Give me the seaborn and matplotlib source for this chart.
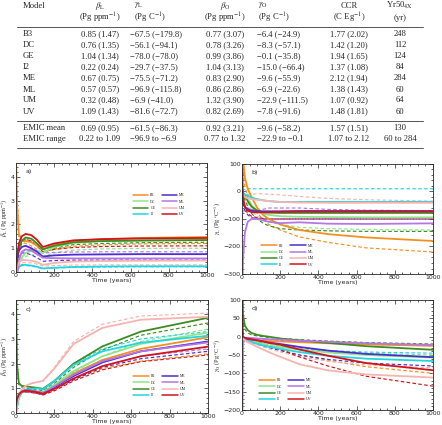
import matplotlib
matplotlib.use("Agg")
import matplotlib.pyplot as plt
import matplotlib.ticker as ticker
from matplotlib.lines import Line2D
import seaborn as sns
import pandas as pd

sns.set_style("ticks")
plt.rcParams['font.family'] = ['Liberation Serif', 'DejaVu Serif']
plt.rcParams['mathtext.fontset'] = 'stix'

# --- Dados da tabela ---
models = ['B3', 'DC', 'GE', 'I2', 'ME', 'ML', 'UM', 'UV']
beta_l_tab = ['0.85 (1.47)', '0.76 (1.35)', '1.04 (1.34)', '0.22 (0.24)',
              '0.67 (0.75)', '0.57 (0.57)', '0.32 (0.48)', '1.09 (1.43)']
gamma_l_tab = ['−67.5 (−179.8)', '−56.1 (−94.1)', '−78.0 (−78.0)', '−29.7 (−37.5)',
               '−75.5 (−71.2)', '−96.9 (−115.8)', '−6.9 (−41.0)', '−81.6 (−72.7)']
beta_o_tab = ['0.77 (3.07)', '0.78 (3.26)', '0.99 (3.86)', '1.04 (3.13)',
              '0.83 (2.90)', '0.86 (2.86)', '1.32 (3.90)', '0.82 (2.69)']
gamma_o_tab = ['−6.4 (−24.9)', '−8.3 (−57.1)', '−0.1 (−35.8)', '−15.0 (−66.4)',
               '−9.6 (−55.9)', '−6.9 (−22.6)', '−22.9 (−111.5)', '−7.8 (−91.6)']
ccr_tab = ['1.77 (2.02)', '1.42 (1.20)', '1.94 (1.65)', '1.37 (1.08)',
           '2.12 (1.94)', '1.38 (1.43)', '1.07 (0.92)', '1.48 (1.81)']
yr50_tab = ['248', '112', '124', '84', '284', '60', '64', '60']
summary_names = ['EMIC mean', 'EMIC range']
summary_rows = [
    ['0.69 (0.95)', '−61.5 (−86.3)', '0.92 (3.21)', '−9.6 (−58.2)', '1.57 (1.51)', '130'],
    ['0.22 to 1.09', '−96.9 to −6.9', '0.77 to 1.32', '−22.9 to −0.1', '1.07 to 2.12', '60 to 284'],
]

# --- Séries temporais ---
years = [1, 5, 15, 30, 50, 80, 110, 140, 200, 300, 450, 650, 1000]

beta_l_solid = {
    'B3': [4.6, 3.0, 1.6, 1.35, 1.3, 1.25, 1.1, 0.95, 1.15, 1.3, 1.38, 1.43, 1.47],
    'DC': [0.0, 0.1, 0.35, 0.6, 0.8, 0.9, 0.9, 0.8, 1.05, 1.22, 1.3, 1.33, 1.35],
    'GE': [0.1, 0.5, 1.0, 1.3, 1.45, 1.4, 1.2, 0.95, 1.1, 1.25, 1.3, 1.32, 1.34],
    'I2': [-0.3, 0.0, 0.2, 0.3, 0.3, 0.27, 0.22, 0.15, 0.18, 0.21, 0.23, 0.24, 0.24],
    'ME': [0.1, 0.5, 0.9, 1.05, 1.1, 1.0, 0.85, 0.65, 0.7, 0.73, 0.74, 0.75, 0.75],
    'ML': [-1.0, -0.2, 0.5, 0.85, 0.95, 0.9, 0.75, 0.6, 0.58, 0.57, 0.57, 0.57, 0.57],
    'UM': [0.0, 0.2, 0.4, 0.5, 0.5, 0.47, 0.42, 0.3, 0.38, 0.44, 0.46, 0.47, 0.48],
    'UV': [0.1, 0.6, 1.2, 1.5, 1.6, 1.55, 1.35, 1.05, 1.2, 1.33, 1.38, 1.41, 1.43],
}
beta_l_dashed = {
    'B3': [4.6, 2.5, 1.4, 1.25, 1.2, 1.1, 0.95, 0.8, 0.95, 1.08, 1.14, 1.18, 1.2],
    'DC': [0.0, 0.1, 0.3, 0.5, 0.65, 0.72, 0.72, 0.65, 0.8, 0.92, 0.97, 0.99, 1.0],
    'GE': [0.1, 0.45, 0.9, 1.2, 1.35, 1.3, 1.1, 0.85, 1.0, 1.15, 1.2, 1.23, 1.25],
    'I2': [-0.2, 0.0, 0.18, 0.27, 0.27, 0.25, 0.2, 0.14, 0.17, 0.2, 0.21, 0.22, 0.22],
    'ME': [0.1, 0.4, 0.7, 0.8, 0.8, 0.72, 0.6, 0.45, 0.48, 0.5, 0.5, 0.5, 0.5],
    'ML': [-0.8, -0.1, 0.5, 0.8, 0.95, 0.95, 0.9, 0.8, 0.82, 0.84, 0.85, 0.85, 0.85],
    'UM': [0.0, 0.15, 0.3, 0.38, 0.4, 0.38, 0.33, 0.25, 0.27, 0.29, 0.3, 0.3, 0.3],
    'UV': [0.1, 0.55, 1.05, 1.3, 1.38, 1.3, 1.1, 0.85, 0.95, 1.03, 1.07, 1.09, 1.1],
}

gamma_l_solid = {
    'B3': [300, 120, 50, 10, -20, -60, -85, -100, -120, -140, -155, -167, -180],
    'DC': [0, -5, -15, -30, -50, -70, -80, -85, -90, -92, -93, -94, -94],
    'GE': [0, -5, -15, -35, -55, -70, -75, -77, -78, -78, -78, -78, -78],
    'I2': [0, -5, -10, -15, -22, -28, -32, -35, -38, -38, -38, -38, -37.5],
    'ME': [-20, -40, -55, -65, -70, -72, -72, -72, -72, -71, -71, -71, -71.2],
    'ML': [-400, -250, -150, -110, -100, -100, -105, -110, -115, -112, -117, -118, -115.8],
    'UM': [0, -10, -20, -25, -28, -30, -32, -35, -38, -40, -41, -41, -41],
    'UV': [80, -20, -55, -70, -75, -76, -76, -75, -74, -73, -73, -73, -72.7],
}
gamma_l_dashed = {
    'B3': [200, 80, 20, -20, -50, -80, -100, -120, -140, -165, -185, -205, -220],
    'DC': [0, -10, -25, -45, -70, -90, -100, -110, -120, -130, -135, -138, -140],
    'GE': [0, -10, -30, -55, -80, -100, -115, -125, -135, -140, -143, -145, -145],
    'I2': [0, 5, 8, 10, 10, 10, 10, 10, 10, 10, 10, 10, 10],
    'ME': [-20, -45, -70, -85, -95, -100, -100, -100, -100, -100, -100, -100, -100],
    'ML': [-100, -70, -60, -60, -65, -65, -65, -60, -60, -60, -65, -68, -70],
    'UM': [0, -5, -8, -10, -10, -8, -8, -10, -12, -18, -25, -30, -35],
    'UV': [40, -25, -60, -80, -90, -95, -98, -100, -100, -100, -100, -100, -100],
}

beta_o_solid = {
    'B3': [0.2, 0.5, 0.75, 0.9, 0.93, 0.9, 0.85, 0.8, 1.1, 1.6, 2.15, 2.6, 3.07],
    'DC': [0.3, 0.55, 0.8, 0.9, 0.93, 0.92, 0.88, 0.85, 1.15, 1.7, 2.3, 2.8, 3.26],
    'GE': [4.6, 2.0, 1.2, 1.1, 1.08, 1.05, 1.02, 0.98, 1.3, 2.0, 2.7, 3.3, 3.86],
    'I2': [0.0, 0.2, 0.6, 0.85, 0.95, 0.98, 1.0, 0.95, 1.3, 1.95, 2.5, 2.85, 3.13],
    'ME': [0.2, 0.5, 0.75, 0.88, 0.92, 0.9, 0.86, 0.8, 1.05, 1.5, 2.05, 2.5, 2.90],
    'ML': [0.2, 0.5, 0.75, 0.88, 0.92, 0.9, 0.86, 0.82, 1.08, 1.55, 2.1, 2.5, 2.86],
    'UM': [0.0, 0.3, 0.7, 0.95, 1.1, 1.2, 1.25, 1.3, 1.8, 2.8, 3.45, 3.78, 3.90],
    'UV': [0.3, 0.55, 0.75, 0.87, 0.9, 0.88, 0.84, 0.78, 0.98, 1.4, 1.9, 2.3, 2.69],
}
beta_o_dashed = {
    'B3': [0.2, 0.45, 0.7, 0.85, 0.88, 0.85, 0.8, 0.75, 0.95, 1.35, 1.8, 2.1, 2.4],
    'DC': [0.3, 0.5, 0.75, 0.88, 0.9, 0.9, 0.86, 0.82, 1.1, 1.65, 2.3, 2.9, 3.4],
    'GE': [4.6, 1.9, 1.15, 1.05, 1.0, 0.98, 0.95, 0.9, 1.2, 1.85, 2.55, 3.15, 3.65],
    'I2': [0.0, 0.2, 0.6, 0.85, 0.95, 0.98, 1.0, 0.95, 1.3, 2.0, 2.6, 3.0, 3.3],
    'ME': [0.2, 0.45, 0.7, 0.84, 0.87, 0.85, 0.8, 0.75, 0.95, 1.35, 1.85, 2.2, 2.5],
    'ML': [0.2, 0.45, 0.7, 0.84, 0.87, 0.85, 0.81, 0.77, 0.98, 1.4, 1.9, 2.3, 2.6],
    'UM': [0.0, 0.3, 0.7, 0.95, 1.1, 1.2, 1.25, 1.3, 1.85, 2.9, 3.6, 3.93, 4.05],
    'UV': [0.3, 0.5, 0.7, 0.82, 0.85, 0.83, 0.79, 0.73, 0.9, 1.3, 1.75, 2.08, 2.35],
}

gamma_o_solid = {
    'B3': [0, -2, -4, -6, -8, -10, -11, -12, -13, -15, -18, -21, -24.9],
    'DC': [0, -3, -6, -9, -12, -16, -20, -24, -28, -35, -43, -50, -57.1],
    'GE': [200, 60, 30, 18, 10, 5, 2, 0, -5, -10, -17, -26, -35.8],
    'I2': [0, -3, -6, -10, -15, -20, -24, -28, -33, -42, -52, -60, -66.4],
    'ME': [0, -2, -4, -6, -8, -10, -13, -16, -20, -28, -38, -47, -55.9],
    'ML': [-300, -20, -5, -3, -4, -5, -6, -7, -8, -11, -14, -18, -22.6],
    'UM': [0, -5, -10, -15, -20, -28, -35, -42, -55, -75, -92, -103, -111.5],
    'UV': [60, 0, -3, -5, -7, -10, -13, -17, -22, -35, -52, -72, -91.6],
}
gamma_o_dashed = {
    'B3': [0, -2, -5, -8, -12, -17, -22, -27, -35, -50, -65, -82, -100],
    'DC': [0, -3, -6, -9, -12, -15, -18, -22, -26, -32, -39, -45, -50],
    'GE': [150, 40, 20, 10, 5, 2, 0, -2, -5, -8, -12, -16, -20],
    'I2': [0, -3, -6, -9, -13, -17, -20, -23, -27, -33, -38, -42, -45],
    'ME': [0, -3, -6, -10, -15, -20, -25, -30, -38, -50, -62, -72, -80],
    'ML': [-250, -15, -5, -3, -4, -5, -6, -8, -10, -13, -17, -21, -25],
    'UM': [0, -4, -8, -12, -17, -22, -28, -33, -42, -55, -67, -77, -85],
    'UV': [50, 0, -4, -7, -10, -14, -19, -25, -35, -55, -80, -108, -135],
}

cores = {
    'B3': '#f39020', 'DC': '#90e48c', 'GE': '#3c8c22', 'I2': '#22d6e0',
    'ME': '#4a2ed2', 'ML': '#b476e4', 'UM': '#f6b4b0', 'UV': '#d2141a',
}

W, H = 442, 425
fig = plt.figure(figsize=(W / 100, H / 100), dpi=100)


def fx(x):
    return x / W


def fy(y):
    return 1 - y / H


# --- Tabela ---
fs = 6.2
fig.text(fx(23), fy(6), 'Model', fontsize=fs, va='center', ha='left')
cabecalhos = [
    (100, 'center', r'$\beta_{\mathrm{L}}$', r'(Pg ppm$^{-1}$)'),
    (134, 'left', r'$\gamma_{\mathrm{L}}$', r'(Pg C$^{-1}$)'),
    (225, 'center', r'$\beta_{\mathrm{O}}$', r'(Pg ppm$^{-1}$)'),
    (258, 'left', r'$\gamma_{\mathrm{O}}$', r'(Pg C$^{-1}$)'),
    (349, 'center', 'CCR', r'(C Eg$^{-1}$)'),
    (400, 'center', r'Yr50$_{\mathrm{4X}}$', '(yr)'),
]
for x, ha, l1, l2 in cabecalhos:
    fig.text(fx(x), fy(5.5), l1, fontsize=fs, va='center', ha=ha)
    fig.text(fx(x), fy(18), l2, fontsize=fs, va='center', ha=ha)

col_x = [100, 130, 225, 257, 349, 400]
col_ha = ['center', 'left', 'center', 'left', 'center', 'center']
colunas = [beta_l_tab, gamma_l_tab, beta_o_tab, gamma_o_tab, ccr_tab, yr50_tab]
row_y = [34, 45, 56, 67, 78.5, 89.5, 100.5, 111.5]
for i, m in enumerate(models):
    fig.text(fx(23), fy(row_y[i]), m, fontsize=fs, va='center', ha='left')
    for col, x, ha in zip(colunas, col_x, col_ha):
        fig.text(fx(x), fy(row_y[i]), col[i], fontsize=fs, va='center', ha=ha)
for nome, vals, y in zip(summary_names, summary_rows, [128.5, 139]):
    fig.text(fx(23), fy(y), nome, fontsize=fs, va='center', ha='left')
    for v, x, ha in zip(vals, col_x, col_ha):
        fig.text(fx(x), fy(y), v, fontsize=fs, va='center', ha=ha)
for y in [27, 121, 148]:
    fig.add_artist(Line2D([fx(17), fx(423)], [fy(y), fy(y)], color='#555555', lw=0.7))


# --- Painéis ---
def long_df(dados):
    linhas = []
    for m in models:
        for t, v in zip(years, dados[m]):
            linhas.append({'year': t, 'val': v, 'model': m})
    return pd.DataFrame(linhas)


paineis = [
    ((16, 163, 207, 272), beta_l_solid, beta_l_dashed, (0, 4.58), [0, 1, 2, 3, 4],
     r'$\beta_{\mathrm{L}}$ (Pg ppm$^{-1}$)', 'a)', 'upper left', (0.6, 0.74)),
    ((242, 164, 433, 274), gamma_l_solid, gamma_l_dashed, (-300, 100), [-300, -200, -100, 0, 100],
     r'$\gamma_{\mathrm{L}}$ (Pg $^{\circ}$C$^{-1}$)', 'b)', 'lower left', (0.09, 0.05)),
    ((16, 300, 208, 413), beta_o_solid, beta_o_dashed, (0, 4.58), [0, 1, 2, 3, 4],
     r'$\beta_{\mathrm{O}}$ (Pg ppm$^{-1}$)', 'c)', 'lower left', (0.6, 0.12)),
    ((242, 300, 433, 410), gamma_o_solid, gamma_o_dashed, (-200, 100), [-200, -150, -100, -50, 0, 50, 100],
     r'$\gamma_{\mathrm{O}}$ (Pg $^{\circ}$C$^{-1}$)', 'd)', 'lower left', (0.08, 0.06)),
]

for (l, t, r, b), solid, dashed, ylim, yticks, ylabel, letra, leg_loc, leg_pos in paineis:
    ax = fig.add_axes([fx(l), fy(b), fx(r - l), (b - t) / H])
    sns.lineplot(data=long_df(dashed), x='year', y='val', hue='model', palette=cores,
                 estimator=None, sort=False, lw=0.85, ax=ax, legend=False)
    for ln in ax.lines:
        ln.set_linestyle((0, (3, 2)))
    sns.lineplot(data=long_df(solid), x='year', y='val', hue='model', palette=cores,
                 estimator=None, sort=False, lw=1.3, ax=ax, legend=False)
    ax.set_xlim(0, 1000)
    ax.set_ylim(*ylim)
    ax.set_yticks(yticks)
    ax.set_xticks([0, 200, 400, 600, 800, 1000])
    ax.xaxis.set_minor_locator(ticker.AutoMinorLocator(5))
    ax.yaxis.set_minor_locator(ticker.AutoMinorLocator(5))
    ax.tick_params(which='both', direction='in', top=True, right=True, labelsize=4.5,
                   width=0.5, pad=1)
    ax.tick_params(which='major', length=3)
    ax.tick_params(which='minor', length=1.5)
    for s in ax.spines.values():
        s.set_linewidth(0.6)
    ax.set_xlabel('Time (years)', fontsize=4.5, family='DejaVu Sans', labelpad=0)
    ax.set_ylabel(ylabel, fontsize=4.5, labelpad=0.5)
    for lab in ax.get_xticklabels() + ax.get_yticklabels():
        lab.set_family('DejaVu Sans')
    ax.text(0.05, 0.92, letra, transform=ax.transAxes, fontsize=4.5, family='DejaVu Sans',
            va='center')
    handles = [Line2D([], [], color=cores[m], lw=1.1) for m in models]
    ax.legend(handles, models, ncol=2, loc=leg_loc, bbox_to_anchor=leg_pos,
              frameon=False, fontsize=2.8, handlelength=4, columnspacing=1.5,
              labelspacing=0.6, handletextpad=0.6, borderpad=0)

fig.savefig('out.png', dpi=100)
